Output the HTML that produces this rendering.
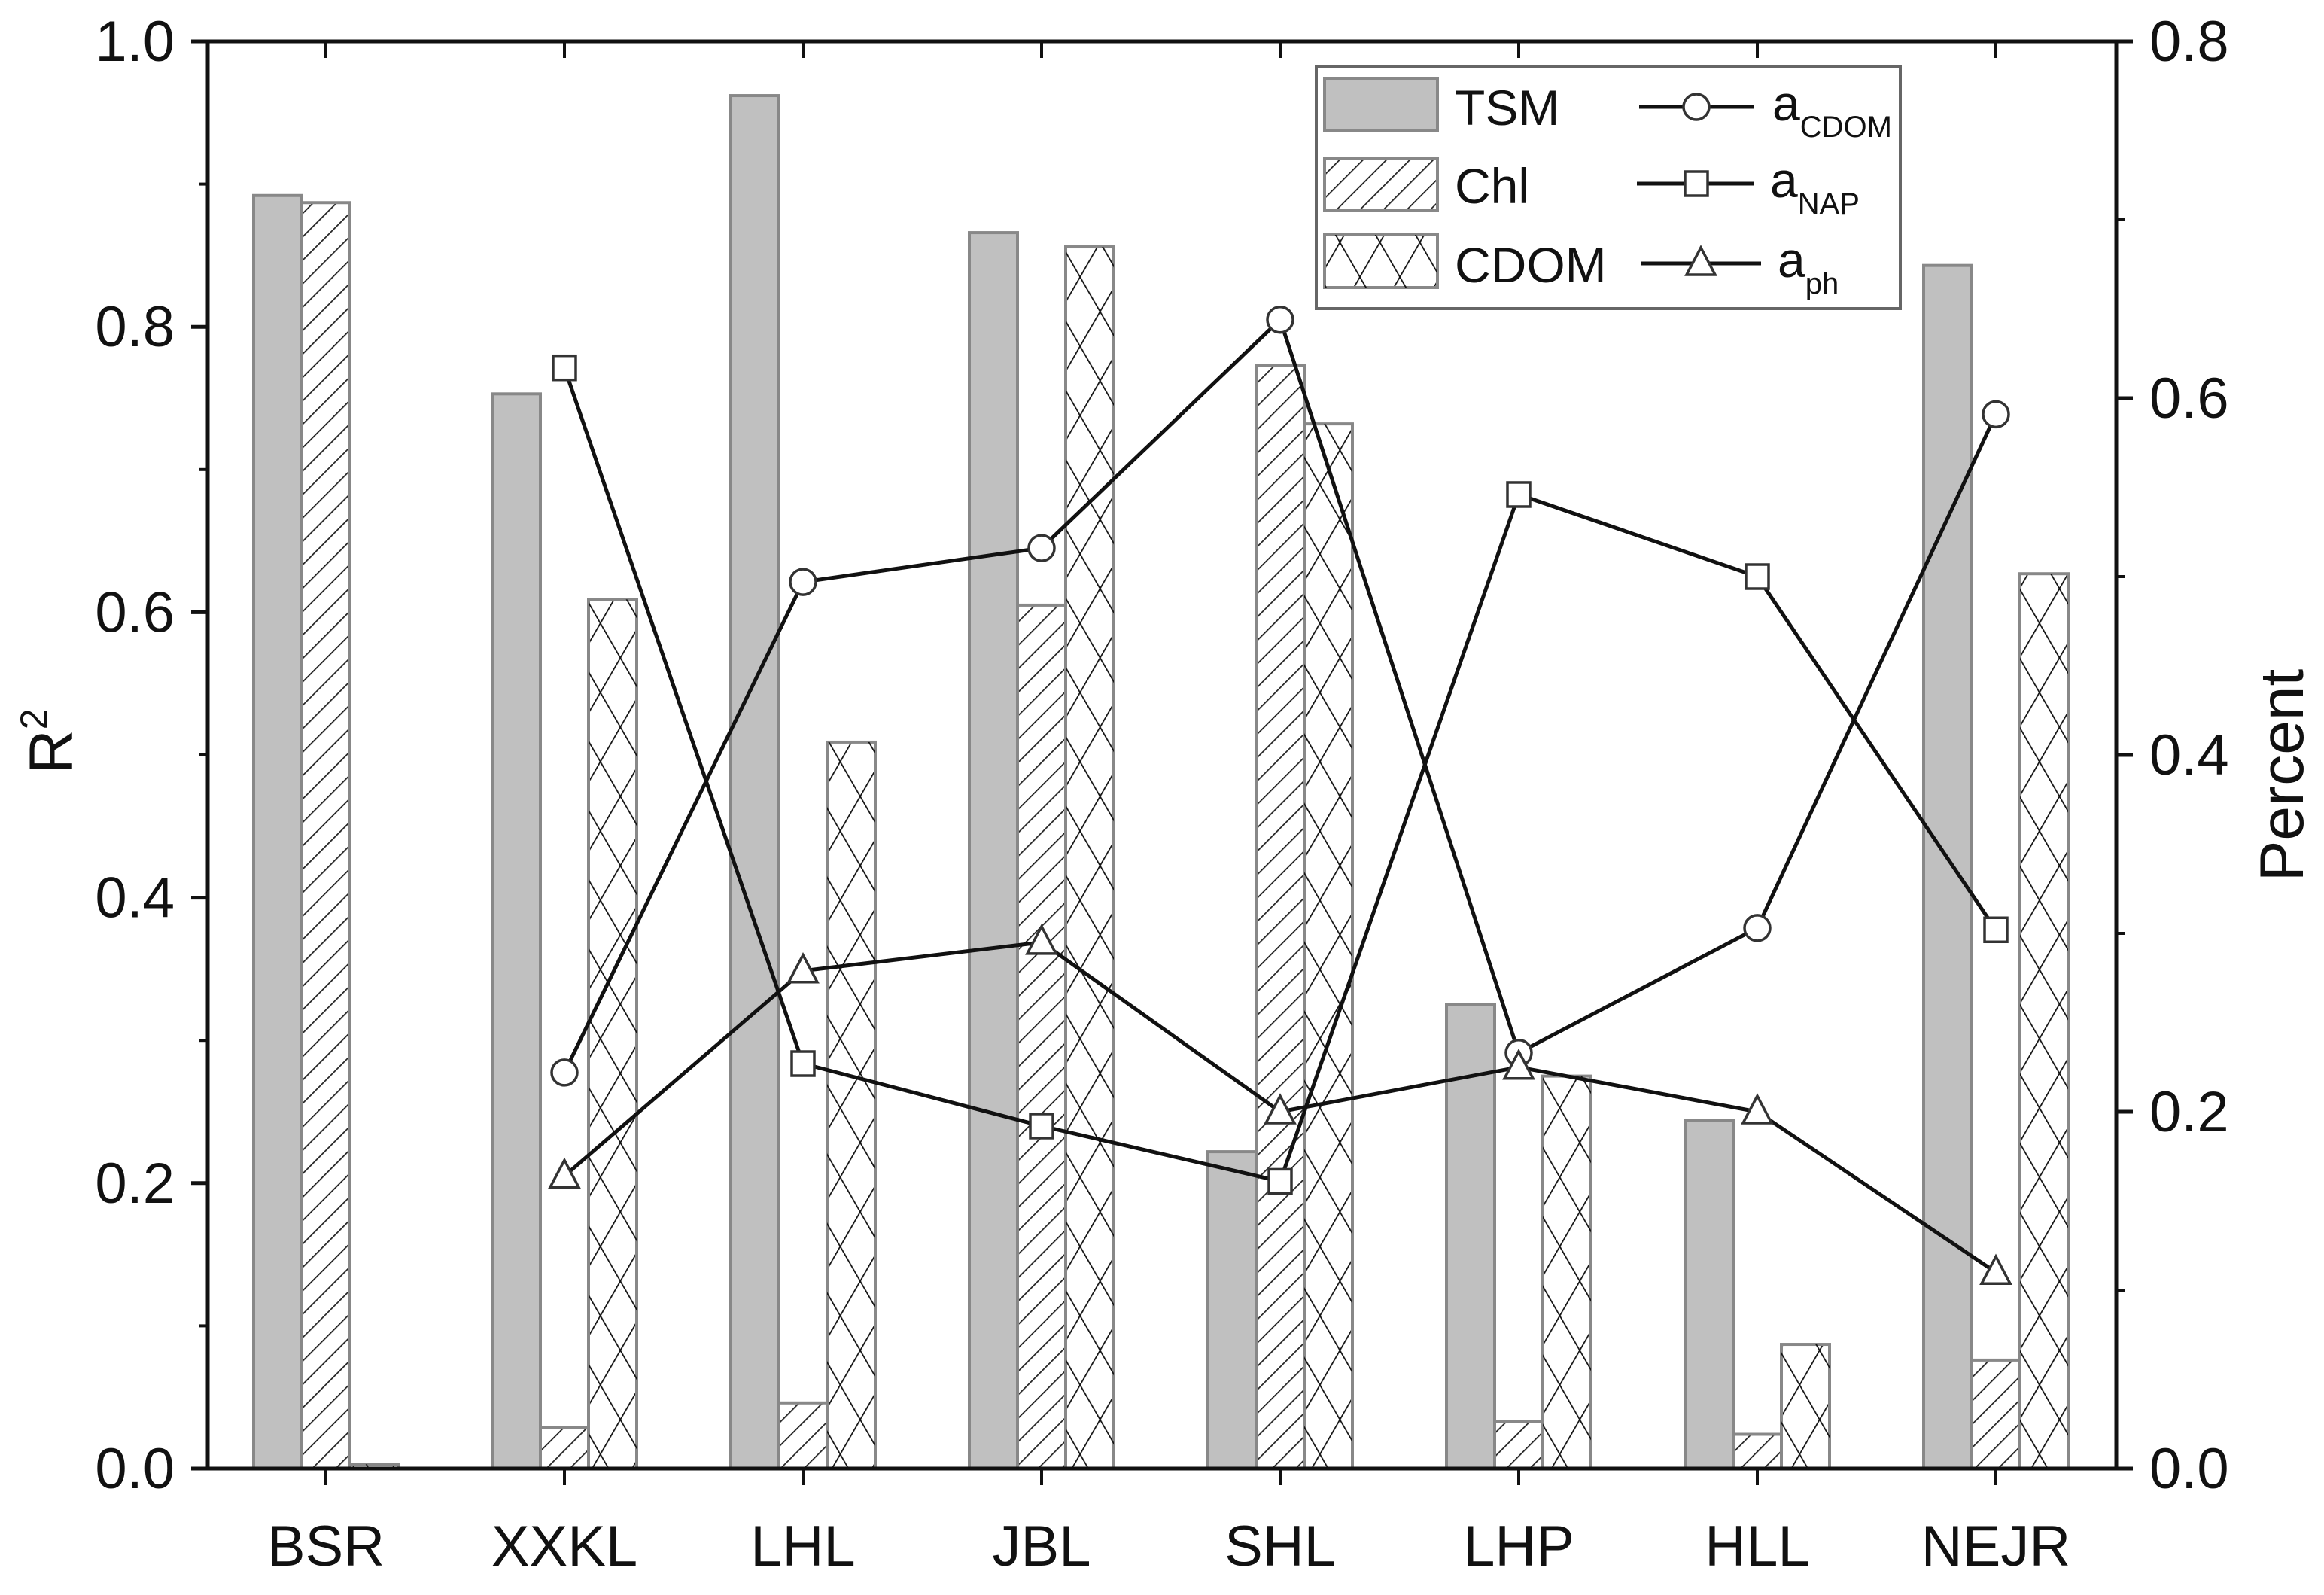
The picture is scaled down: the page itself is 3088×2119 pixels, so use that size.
<!DOCTYPE html>
<html><head><meta charset="utf-8"><style>
html,body{margin:0;padding:0;background:#fff;}
svg text{font-family:"Liberation Sans",Arial,sans-serif;fill:#111;}
</style></head><body>
<svg id="chart" width="3088" height="2114" viewBox="0 0 3088 2114" xmlns="http://www.w3.org/2000/svg">
<defs>
<pattern id="hatch" patternUnits="userSpaceOnUse" width="22" height="22" patternTransform="rotate(45)">
<rect width="22" height="22" fill="#fff"/><line x1="0" y1="0" x2="0" y2="22" stroke="#222" stroke-width="3.5"/>
</pattern>
<pattern id="cross" patternUnits="userSpaceOnUse" width="46" height="46" patternTransform="rotate(30)">
<rect width="46" height="46" fill="#fff"/><line x1="0" y1="0" x2="0" y2="46" stroke="#111" stroke-width="3.5"/>
</pattern>
<pattern id="cross2" patternUnits="userSpaceOnUse" width="46" height="46" patternTransform="rotate(-30)">
<line x1="0" y1="0" x2="0" y2="46" stroke="#111" stroke-width="3.5"/>
</pattern>
</defs>
<g id="bars"></g>
<g id="lines"></g>
<g id="axes"></g>
<g id="legend"></g>
</svg>
<script>
const categories = ["BSR","XXKL","LHL","JBL","SHL","LHP","HLL","NEJR"];
const tsmValues = [0.892,0.753,0.962,0.866,0.222,0.325,0.244,0.843];
const chlValues = [0.887,0.029,0.046,0.605,0.773,0.033,0.024,0.076];
const cdomValues = [0.003,0.609,0.509,0.856,0.732,0.275,0.087,0.627];
const aCdomValues = [null,0.222,0.497,0.516,0.644,0.233,0.303,0.591];
const aNapValues = [null,0.617,0.227,0.192,0.161,0.546,0.500,0.302];
const aPhValues = [null,0.164,0.279,0.295,0.200,0.225,0.200,0.110];
const leftTicks = ["0.0","0.2","0.4","0.6","0.8","1.0"];
const rightTicks = ["0.0","0.2","0.4","0.6","0.8"];

const NS="http://www.w3.org/2000/svg";
const L=276,R=2812,T=55,B=1951;
const yL=v=>B-(v/1.0)*(B-T);
const yR=v=>B-(v/0.8)*(B-T);
const xC=i=>433+i*317;
const bw=64;
function mk(tag,attrs,parent){const e=document.createElementNS(NS,tag);for(const k in attrs)e.setAttribute(k,attrs[k]);parent.appendChild(e);return e;}
const gb=document.getElementById('bars'),gl=document.getElementById('lines'),ga=document.getElementById('axes'),gg=document.getElementById('legend');

const series=[[tsmValues,'#c0c0c0','tsm'],[chlValues,'url(#hatch)','chl'],[cdomValues,'url(#cross)','cdom']];
series.forEach((s,si)=>{
 s[0].forEach((v,i)=>{
  const x=xC(i)+(si-1)*bw-bw/2, y=yL(v);
  const r=mk('rect',{x:x,y:y,width:bw,height:B-y,fill:s[1],stroke:'#888','stroke-width':4},gb);
  
  
  if(si===2){const r2=mk('rect',{x:x,y:y,width:bw,height:B-y,fill:'url(#cross2)'},gb);
   
   }
 });
});

function marker(type,x,y,parent){
 let e;
 if(type==='c') e=mk('circle',{cx:x,cy:y,r:17},parent);
 else if(type==='s') e=mk('rect',{x:x-15,y:y-16,width:30,height:32},parent);
 else e=mk('polygon',{points:`${x},${y-21} ${x-19},${y+15} ${x+19},${y+15}`},parent);
 e.setAttribute('fill','#fff');e.setAttribute('stroke','#333');e.setAttribute('stroke-width',3.5);
 return e;
}
const lineSeries=[[aCdomValues,'c','a-cdom'],[aNapValues,'s','a-nap'],[aPhValues,'t','a-ph']];
lineSeries.forEach(s=>{
 const pts=[];s[0].forEach((v,i)=>{if(v!==null)pts.push([xC(i),yR(v)]);});
 const p=mk('polyline',{points:pts.map(p=>p.join(',')).join(' '),fill:'none',stroke:'#111','stroke-width':5},gl);
 
 
 pts.forEach(q=>{const m=marker(s[1],q[0],q[1],gl);
  
  });
});

mk('rect',{x:L,y:T,width:R-L,height:B-T,fill:'none',stroke:'#111','stroke-width':5},ga);
leftTicks.forEach((t,i)=>{
 const v=parseFloat(t),y=yL(v);
 mk('line',{x1:L-22,y1:y,x2:L,y2:y,stroke:'#111','stroke-width':5},ga);
 if(i<leftTicks.length-1) mk('line',{x1:L-12,y1:yL(v+0.1),x2:L,y2:yL(v+0.1),stroke:'#111','stroke-width':4},ga);
 const tx=mk('text',{x:232,y:y+26,'font-size':76,'text-anchor':'end'},ga);tx.textContent=t;
 
 
});
rightTicks.forEach((t,i)=>{
 const v=parseFloat(t),y=yR(v);
 mk('line',{x1:R,y1:y,x2:R+22,y2:y,stroke:'#111','stroke-width':5},ga);
 if(i<rightTicks.length-1) mk('line',{x1:R,y1:yR(v+0.1),x2:R+12,y2:yR(v+0.1),stroke:'#111','stroke-width':4},ga);
 const tx=mk('text',{x:2856,y:y+26,'font-size':76,'text-anchor':'start'},ga);tx.textContent=t;
 
 
});
categories.forEach((c,i)=>{
 const x=xC(i);
 mk('line',{x1:x,y1:B,x2:x,y2:B+22,stroke:'#111','stroke-width':4},ga);
 mk('line',{x1:x,y1:T,x2:x,y2:T+22,stroke:'#111','stroke-width':4},ga);
 const tx=mk('text',{x:x,y:2080,'font-size':76,'text-anchor':'middle'},ga);tx.textContent=c;
 
 
});
</script>
<svg style="position:absolute;left:0;top:0" width="3088" height="2114" xmlns="http://www.w3.org/2000/svg">
<text transform="translate(96,985) rotate(-90)" font-size="82" text-anchor="middle" style="font-family:'Liberation Sans',sans-serif">R<tspan font-size="50" dy="-34">2</tspan></text>
<text transform="translate(3060,1030) rotate(-90)" font-size="82" text-anchor="middle" style="font-family:'Liberation Sans',sans-serif">Percent</text>
<g style="font-family:'Liberation Sans',sans-serif">
<rect x="1749" y="89" width="776" height="321" fill="#fff" stroke="#666" stroke-width="4"/>
<rect x="1760" y="104" width="150" height="70" fill="#c0c0c0" stroke="#888" stroke-width="4"/>
<text x="1933" y="166" font-size="66">TSM</text>
<rect x="1760" y="210" width="150" height="70" fill="url(#hatch)" stroke="#888" stroke-width="4"/>
<text x="1933" y="270" font-size="66">Chl</text>
<rect x="1760" y="312" width="150" height="70" fill="url(#cross)" stroke="#888" stroke-width="4"/>
<rect x="1760" y="312" width="150" height="70" fill="url(#cross2)"/>
<text x="1933" y="375" font-size="66">CDOM</text>
<line x1="2178" y1="142" x2="2330" y2="142" stroke="#111" stroke-width="5"/>
<circle cx="2254" cy="142" r="17" fill="#fff" stroke="#333" stroke-width="3.5"/>
<text x="2355" y="160" font-size="66">a<tspan font-size="40" dy="22">CDOM</tspan></text>
<line x1="2175" y1="244" x2="2330" y2="244" stroke="#111" stroke-width="5"/>
<rect x="2239" y="228" width="30" height="32" fill="#fff" stroke="#333" stroke-width="3.5"/>
<text x="2352" y="262" font-size="66">a<tspan font-size="40" dy="22">NAP</tspan></text>
<line x1="2180" y1="350" x2="2340" y2="350" stroke="#111" stroke-width="5"/>
<polygon points="2260,329 2241,365 2279,365" fill="#fff" stroke="#333" stroke-width="3.5"/>
<text x="2362" y="368" font-size="66">a<tspan font-size="40" dy="22">ph</tspan></text>
</g>
</svg>
</body></html>
